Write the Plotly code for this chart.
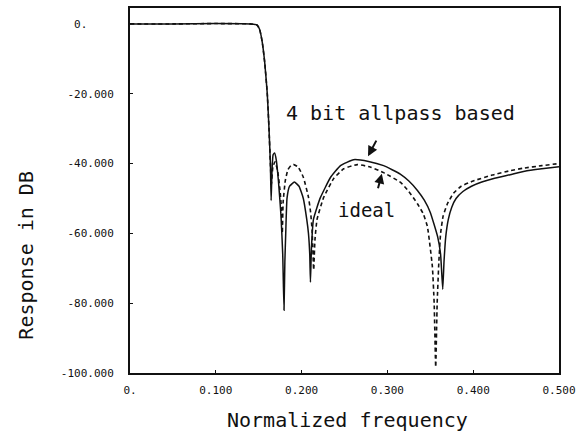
import plotly.graph_objects as go

# ---- data ----
freq_allpass = [0.000, 0.050, 0.100, 0.140, 0.148, 0.151, 0.154, 0.157, 0.160, 0.162, 0.1636,
                0.1645, 0.1655, 0.1668, 0.1685, 0.1705, 0.173, 0.176, 0.178, 0.1795,
                0.1805, 0.1815, 0.183, 0.186, 0.1916, 0.197, 0.202, 0.206, 0.208, 0.2095, 0.2103,
                0.2115, 0.2138, 0.2180, 0.2220, 0.2336, 0.2453, 0.2605, 0.2780,
                0.2956, 0.3150, 0.3250, 0.3350, 0.3430, 0.3500, 0.3586, 0.3620, 0.3645,
                0.3660, 0.3680, 0.3710, 0.3750, 0.3800, 0.3880, 0.3980, 0.4100, 0.4250,
                0.4430, 0.4600, 0.4800, 0.5000]
db_allpass = [0.0, 0.0, 0.1, 0.0, -0.3, -1.5, -5.0, -11.0, -20.0, -30.0, -40.0,
              -50.6, -42.0, -37.5, -37.0, -39.0, -45.0, -55.0, -66.0, -82.0,
              -68.0, -60.0, -50.0, -46.5, -45.3, -46.5, -50.0, -56.0, -60.0, -66.0, -74.0,
              -64.0, -56.0, -52.5, -49.7, -44.0, -40.6, -38.9, -39.4,
              -40.6, -43.0, -45.0, -47.7, -50.5, -54.0, -61.0, -66.0, -76.0,
              -68.0, -61.0, -56.0, -52.5, -50.0, -48.0, -46.5, -45.3, -44.2,
              -43.2, -42.2, -41.5, -40.9]

freq_ideal = [0.000, 0.050, 0.100, 0.140, 0.148, 0.151, 0.154, 0.157, 0.160, 0.162, 0.1636,
              0.1648, 0.1665, 0.1690, 0.1720, 0.1750, 0.1765, 0.1775,
              0.1785, 0.1810, 0.1840, 0.1875, 0.1908, 0.1960, 0.2020, 0.2080, 0.2105, 0.2122, 0.2141,
              0.2155, 0.2180, 0.2257, 0.2374, 0.2490, 0.2650, 0.2800,
              0.2956, 0.3154, 0.3250, 0.3350, 0.3420, 0.3466, 0.3524, 0.3545, 0.3563,
              0.3580, 0.3600, 0.3620, 0.3650, 0.3700, 0.3770, 0.3860, 0.4000, 0.4220,
              0.4440, 0.4590, 0.4800, 0.5000]
db_ideal = [0.0, 0.0, 0.1, 0.0, -0.3, -1.5, -5.0, -11.0, -20.0, -30.0, -40.0,
            -46.0, -41.0, -39.5, -42.0, -48.0, -53.0, -60.0,
            -51.0, -44.9, -41.8, -40.6, -40.3, -41.0, -43.9, -49.6, -54.0, -59.0, -70.5,
            -62.0, -56.0, -49.7, -44.3, -41.5, -40.3, -41.0,
            -42.6, -45.4, -48.0, -51.5, -54.5, -58.0, -69.5, -80.0, -98.3,
            -80.0, -68.0, -60.0, -55.0, -51.5, -48.5, -46.5, -45.0, -43.3,
            -42.0, -41.3, -40.6, -40.0]

x_tick_vals = [0.0, 0.1, 0.2, 0.3, 0.4, 0.5]
x_tick_text = ["0.", "0.100", "0.200", "0.300", "0.400", "0.500"]
y_tick_vals = [0, -20, -40, -60, -80, -100]
y_tick_text = ["0.\u00a0\u00a0\u00a0\u00a0", "-20.000", "-40.000", "-60.000", "-80.000", "-100.000"]

FONT = "DejaVu Sans Mono"
INK = "#111111"

fig = go.Figure()
fig.add_trace(go.Scatter(x=freq_ideal, y=db_ideal, mode="lines",
                         line=dict(color=INK, width=1.6, dash="4px,3px", shape="spline", smoothing=0.4),
                         showlegend=False, hoverinfo="skip"))
fig.add_trace(go.Scatter(x=freq_allpass, y=db_allpass, mode="lines",
                         line=dict(color=INK, width=1.5, shape="spline", smoothing=0.4),
                         showlegend=False, hoverinfo="skip"))

fig.update_layout(
    width=583, height=437,
    margin=dict(l=130, r=24, t=6, b=64),
    paper_bgcolor="white", plot_bgcolor="white",
    font=dict(family=FONT, color=INK),
    xaxis=dict(range=[0, 0.5], tickvals=x_tick_vals, ticktext=x_tick_text,
               showgrid=False, zeroline=False, showline=True, linecolor=INK, linewidth=2,
               mirror=True, ticks="inside", ticklen=3, tickcolor=INK,
               tickfont=dict(family=FONT, size=11, color=INK), ticklabelstandoff=6),
    yaxis=dict(range=[-100, 4.56], tickvals=y_tick_vals, ticktext=y_tick_text,
               showgrid=False, zeroline=False, showline=True, linecolor=INK, linewidth=2,
               mirror=True, ticks="inside", ticklen=3, tickcolor=INK,
               tickfont=dict(family=FONT, size=11, color=INK), ticklabelstandoff=12),
    annotations=[
        dict(text="Normalized frequency", xref="paper", yref="paper",
             x=(347 - 130) / 429, y=-(420 - 373) / 367, xanchor="center", yanchor="middle",
             showarrow=False, font=dict(family=FONT, size=20, color=INK)),
        dict(text="Response in DB", xref="paper", yref="paper",
             x=-(130 - 26) / 429, y=(373 - 255) / 367, xanchor="center", yanchor="middle",
             textangle=-90, showarrow=False, font=dict(family=FONT, size=20, color=INK)),
        dict(text="4 bit allpass based", xref="x", yref="y",
             x=0.3158, y=-25.5, xanchor="center", yanchor="middle",
             showarrow=False, font=dict(family=FONT, size=20, color=INK)),
        dict(text="ideal", xref="x", yref="y",
             x=0.2751, y=-53.4, xanchor="center", yanchor="middle",
             showarrow=False, font=dict(family=FONT, size=19, color=INK)),
        dict(text="", xref="x", yref="y", x=0.2774, y=-37.9,
             ax=0.2880, ay=-33.0, axref="x", ayref="y",
             showarrow=True, arrowhead=2, arrowsize=1, arrowwidth=2, arrowcolor=INK),
        dict(text="", xref="x", yref="y", x=0.2935, y=-42.9,
             ax=0.2886, ay=-47.5, axref="x", ayref="y",
             showarrow=True, arrowhead=2, arrowsize=1, arrowwidth=2, arrowcolor=INK),
    ],
)

fig.write_html("out.html")
